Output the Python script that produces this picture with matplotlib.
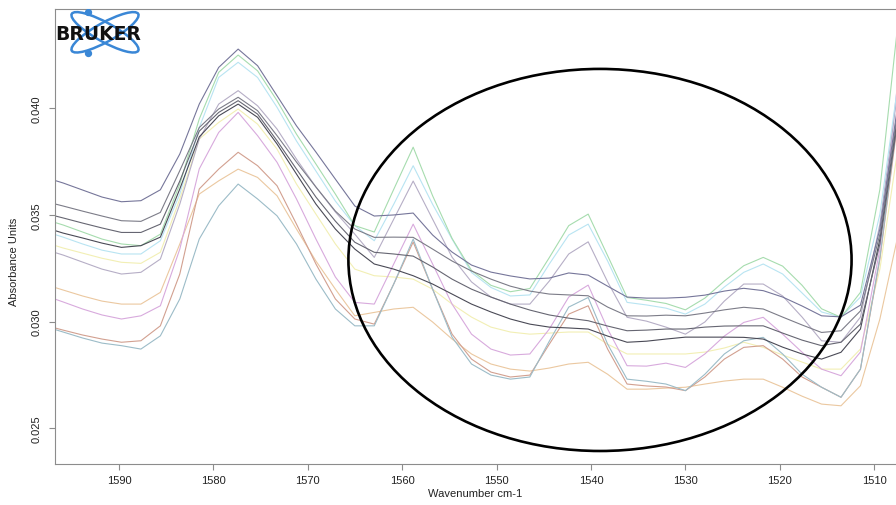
import numpy as np
import matplotlib.pyplot as plt
from matplotlib.patches import Ellipse

plt.rcParams['font.family'] = ['Liberation Sans', 'DejaVu Sans']

# wavenumber grid of the spectra (cm-1), high to low
wavenumber = [1597.98, 1595.92, 1593.86, 1591.80, 1589.74, 1587.68, 1585.62, 1583.56,
              1581.50, 1579.44, 1577.38, 1575.32, 1573.26, 1571.20, 1569.14, 1567.08,
              1565.02, 1562.96, 1560.90, 1558.84, 1556.78, 1554.72, 1552.66, 1550.60,
              1548.54, 1546.48, 1544.42, 1542.36, 1540.30, 1538.24, 1536.18, 1534.12,
              1532.06, 1530.00, 1527.94, 1525.88, 1523.82, 1521.76, 1519.70, 1517.64,
              1515.58, 1513.52, 1511.46, 1509.40, 1507.34]

# absorbance in mAU, one list per spectrum
slate = [36.78, 36.5, 36.17, 35.84, 35.62, 35.67, 36.18, 37.86, 40.2, 41.92, 42.78, 42.0,
         40.59, 39.18, 37.95, 36.68, 35.42, 34.95, 35.0, 35.09, 34.06, 33.26, 32.65, 32.32,
         32.14, 32.0, 32.04, 32.28, 32.18, 31.66, 31.15, 31.1, 31.1, 31.14, 31.24, 31.43,
         31.56, 31.45, 31.15, 30.73, 30.27, 30.22, 30.77, 34.34, 40.67]
green = [34.81, 34.53, 34.2, 33.87, 33.64, 33.56, 34.1, 36.45, 39.5, 41.69, 42.5, 41.76,
         40.36, 38.79, 37.39, 35.98, 34.5, 34.2, 36.2, 38.18, 35.9, 33.9, 32.4, 31.7,
         31.4, 31.55, 33.0, 34.5, 35.04, 33.09, 31.13, 31.0, 30.85, 30.55, 31.1, 31.9,
         32.62, 33.01, 32.6, 31.7, 30.6, 30.2, 31.37, 36.2, 44.6]
cyan = [34.25, 33.96, 33.64, 33.35, 33.17, 33.17, 33.79, 35.98, 39.1, 41.45, 42.16, 41.45,
        40.05, 38.47, 37.06, 35.65, 34.5, 33.79, 35.5, 37.31, 35.5, 33.87, 32.3, 31.6,
        31.2, 31.25, 32.7, 34.06, 34.57, 32.84, 30.9, 30.78, 30.63, 30.35, 30.82, 31.62,
        32.31, 32.7, 32.23, 31.34, 30.45, 30.21, 31.15, 35.04, 41.6]
lavender = [33.4, 33.12, 32.79, 32.46, 32.23, 32.31, 32.93, 35.51, 38.56, 40.2, 40.83, 40.12,
            39.03, 37.62, 36.31, 35.14, 34.1, 33.01, 34.8, 36.59, 34.8, 33.02, 31.86, 31.15,
            30.82, 30.82, 31.9, 33.17, 33.74, 31.86, 30.2, 30.02, 29.74, 29.41, 29.98, 30.96,
            31.76, 31.76, 31.2, 30.21, 29.1, 29.03, 30.21, 34.57, 41.37]
grey1 = [35.65, 35.42, 35.18, 34.95, 34.73, 34.7, 35.12, 37.08, 39.1, 39.97, 40.52, 39.89,
         38.72, 37.48, 36.31, 35.18, 34.34, 33.95, 33.96, 33.95, 33.4, 32.84, 32.37, 31.99,
         31.66, 31.43, 31.29, 31.25, 31.21, 30.68, 30.27, 30.26, 30.3, 30.27, 30.4, 30.55,
         30.67, 30.59, 30.21, 29.84, 29.49, 29.57, 30.5, 34.1, 40.44]
grey2 = [35.09, 34.86, 34.62, 34.39, 34.18, 34.18, 34.57, 36.59, 38.93, 39.81, 40.36, 39.73,
         38.48, 37.15, 35.84, 34.71, 33.72, 33.25, 33.17, 33.07, 32.56, 31.99, 31.52, 31.15,
         30.82, 30.54, 30.31, 30.16, 30.04, 29.79, 29.57, 29.6, 29.65, 29.65, 29.74, 29.79,
         29.8, 29.8, 29.46, 29.13, 28.87, 29.03, 29.88, 33.64, 39.97]
grey3 = [34.43, 34.15, 33.92, 33.68, 33.48, 33.56, 33.96, 36.22, 38.66, 39.65, 40.2, 39.58,
         38.33, 36.92, 35.51, 34.34, 33.4, 32.7, 32.46, 32.15, 31.76, 31.29, 30.82, 30.45,
         30.12, 29.88, 29.74, 29.7, 29.65, 29.32, 29.03, 29.08, 29.18, 29.27, 29.27, 29.27,
         29.26, 29.18, 28.8, 28.48, 28.24, 28.56, 29.65, 33.87, 40.2]
yellow = [33.73, 33.45, 33.21, 32.97, 32.78, 32.73, 33.25, 35.75, 38.56, 39.34, 39.97, 39.26,
          38.09, 36.45, 35.04, 33.64, 32.46, 32.15, 32.09, 31.99, 31.52, 30.82, 30.21, 29.74,
          29.51, 29.41, 29.46, 29.51, 29.51, 28.94, 28.48, 28.48, 28.48, 28.48, 28.57, 28.76,
          29.03, 28.79, 28.43, 28.1, 27.77, 27.77, 28.71, 32.46, 38.56]
pink = [31.24, 30.92, 30.59, 30.31, 30.12, 30.27, 30.74, 33.4, 37.16, 38.87, 39.81, 38.72,
        37.47, 35.75, 33.87, 32.09, 30.9, 30.82, 32.7, 34.57, 32.7, 30.82, 29.41, 28.71,
        28.43, 28.48, 29.65, 31.15, 31.71, 29.65, 27.93, 27.91, 28.05, 27.85, 28.48, 29.32,
        29.96, 30.2, 29.41, 28.56, 27.77, 27.46, 28.57, 33.4, 41.95]
orange = [31.76, 31.48, 31.2, 30.96, 30.82, 30.82, 31.37, 33.64, 35.98, 36.6, 37.15, 36.76,
          35.9, 34.34, 32.84, 31.52, 30.27, 30.43, 30.59, 30.67, 29.98, 29.18, 28.48, 28.01,
          27.77, 27.68, 27.82, 28.01, 28.09, 27.53, 26.83, 26.83, 26.88, 26.92, 27.07, 27.21,
          27.3, 27.3, 26.92, 26.5, 26.13, 26.05, 26.99, 30.12, 34.34]
red = [29.84, 29.6, 29.37, 29.18, 29.03, 29.1, 29.8, 32.23, 36.22, 37.15, 37.94, 37.31,
       36.37, 34.57, 32.7, 31.06, 30.12, 29.88, 31.76, 33.73, 31.52, 29.41, 28.24, 27.63,
       27.4, 27.49, 28.94, 30.35, 30.74, 28.71, 27.07, 26.98, 26.93, 26.76, 27.4, 28.24,
       28.79, 28.87, 28.24, 27.4, 26.92, 26.45, 27.77, 32.93, 39.97]
teal = [29.79, 29.51, 29.23, 28.99, 28.87, 28.71, 29.33, 31.06, 33.87, 35.43, 36.45, 35.75,
        34.96, 33.64, 31.99, 30.59, 29.8, 29.8, 31.76, 33.87, 31.52, 29.27, 28.01, 27.49,
        27.3, 27.4, 29.08, 30.68, 31.13, 28.94, 27.3, 27.2, 27.07, 26.76, 27.53, 28.48,
        29.1, 29.26, 28.48, 27.53, 26.92, 26.45, 27.77, 33.03, 40.2]

spectra = [
    (orange, '#ebc8a0'), (yellow, '#f2efb4'), (red, '#d2a090'), (teal, '#9cbcc8'),
    (pink, '#d8aadd'), (lavender, '#b6aec6'), (cyan, '#b8e4f2'), (green, '#a6dcae'),
    (grey3, '#4a4a56'), (grey2, '#666672'), (grey1, '#7c7c88'), (slate, '#76769a'),
]

fig = plt.figure(figsize=(8.96, 5.06), dpi=100)
ax = fig.add_axes([55 / 896, 41 / 506, 845 / 896, 455 / 506])

for vals, col in spectra:
    ax.plot(wavenumber, np.array(vals) / 1000, color=col, lw=0.8)

# region of interest
ax.add_patch(Ellipse((1539.05, 0.03289), 53.3, 0.01792, fill=False,
                     ec='black', lw=1.9, zorder=5))

ax.set_xlim(1596.78, 1507.27)
ax.set_ylim(0.02332, 0.04466)
ax.set_xticks([1590, 1580, 1570, 1560, 1550, 1540, 1530, 1520, 1510])
ax.set_yticks([0.025, 0.030, 0.035, 0.040])
ax.set_yticklabels(['0.025', '0.030', '0.035', '0.040'], rotation=90, va='center')

for side in ['left', 'bottom', 'top']:
    ax.spines[side].set_color('#8c8c8c')
    ax.spines[side].set_linewidth(0.8)
ax.spines['right'].set_visible(False)
ax.tick_params(axis='both', direction='out', color='#8c8c8c', labelsize=8,
               labelcolor='#222222', length=4.5, width=0.8)
ax.tick_params(axis='y', pad=5)
ax.tick_params(axis='x', pad=3.5)

ax.set_xlabel('Wavenumber cm-1', fontsize=8, color='#222222')
ax.set_ylabel('Absorbance Units', fontsize=8, color='#222222')
ax.xaxis.set_label_coords(0.497, -0.052)
ax.yaxis.set_label_coords(-0.043, 0.446)

# logo
lax = fig.add_axes([55 / 896, 446 / 506, 100 / 896, 50 / 506])
lax.set_xlim(0, 100)
lax.set_ylim(0, 50)
lax.axis('off')
for ang in (-29, 29):
    lax.add_patch(Ellipse((50, 26.7), 76, 19, angle=ang, fill=False,
                          ec='#3a87d6', lw=1.8))
lax.scatter([33.3, 33.3], [46.7, 5.7], s=18, color='#3a87d6', zorder=3)
lax.text(0, 26, 'BRUKER', fontsize=13.5, fontweight='bold', family='DejaVu Sans',
         va='center', ha='left', color='#111111', zorder=4)

fig.savefig('out.png', dpi=100)
